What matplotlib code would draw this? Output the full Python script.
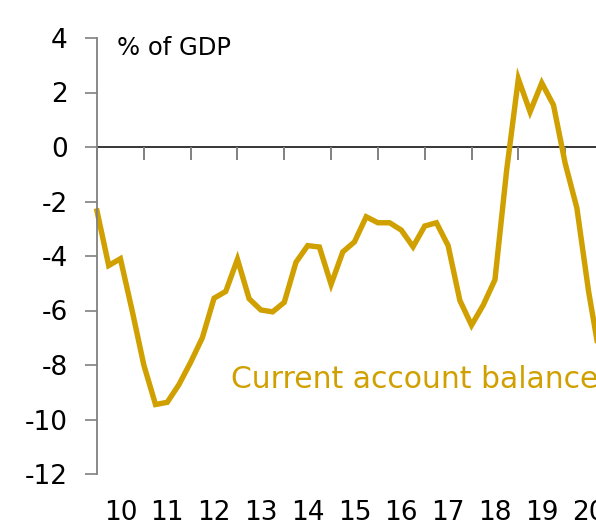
import matplotlib.pyplot as plt
import numpy as np

# quarterly current account balance, % of GDP, from 2010 Q1
balance = [
    -2.35, -4.35, -4.1, -6.0,    # 2010
    -8.0, -9.45, -9.37, -8.72,   # 2011
    -7.9, -7.0, -5.55, -5.3,     # 2012
    -4.12, -5.57, -5.98, -6.05,  # 2013
    -5.7, -4.23, -3.62, -3.67,   # 2014
    -5.04, -3.85, -3.48, -2.56,  # 2015
    -2.78, -2.78, -3.05, -3.66,  # 2016
    -2.9, -2.78, -3.62, -5.63,   # 2017
    -6.54, -5.8, -4.87, -0.85,   # 2018
    2.5, 1.29, 2.35, 1.54,       # 2019
    -0.6, -2.24, -5.3, -7.8,     # 2020
]
start_year = 2010
years = list(range(2010, 2021))
year_labels = [str(y)[2:] for y in years]
y_ticks = list(range(-12, 5, 2))

gold = "#d0a000"
grey = "#808080"

plt.rcParams["font.family"] = ["DejaVu Sans"]

t = start_year + np.arange(len(balance)) / 4

fig = plt.figure(figsize=(5.96, 5.27), dpi=100)
# right edge of the axes runs past the figure, as in the cropped original
ax = fig.add_axes([97 / 596, 53 / 527, 515 / 596, 436 / 527])

ax.plot(t, balance, color=gold, lw=3.9, solid_joinstyle="miter", clip_on=False)
ax.axhline(0, color="black", lw=1.1, zorder=1)

ax.set_xlim(2010, 2021)
ax.set_ylim(-12, 4)
ax.set_yticks(y_ticks)
ax.set_yticklabels([str(v) for v in y_ticks])

for s in ["top", "right"]:
    ax.spines[s].set_visible(False)
ax.spines["left"].set_color(grey)
ax.spines["left"].set_linewidth(1.3)
ax.spines["bottom"].set_position(("data", 0))
ax.spines["bottom"].set_visible(False)

ax.tick_params(axis="y", direction="out", length=9, width=1.2, color=grey,
               labelsize=19, pad=12)
# the zero tick carries on the black zero line
ax.yaxis.get_major_ticks()[y_ticks.index(0)].tick1line.set_color("black")
ax.set_xticks(years)
ax.tick_params(axis="x", direction="out", length=9, width=1.4, color=grey,
               labelbottom=False)

sec = ax.secondary_xaxis(0)
sec.set_xticks([y + 0.5 for y in years])
sec.set_xticklabels(year_labels)
sec.spines["bottom"].set_visible(False)
sec.tick_params(length=0, labelsize=19, pad=19)

ax.text(2010.43, 3.62, "% of GDP", fontsize=17.5, va="center", ha="left")
ax.text(2012.86, -8.55, "Current account balance", fontsize=21.5, color=gold,
        va="center", ha="left")

fig.savefig("out.png", dpi=100)
